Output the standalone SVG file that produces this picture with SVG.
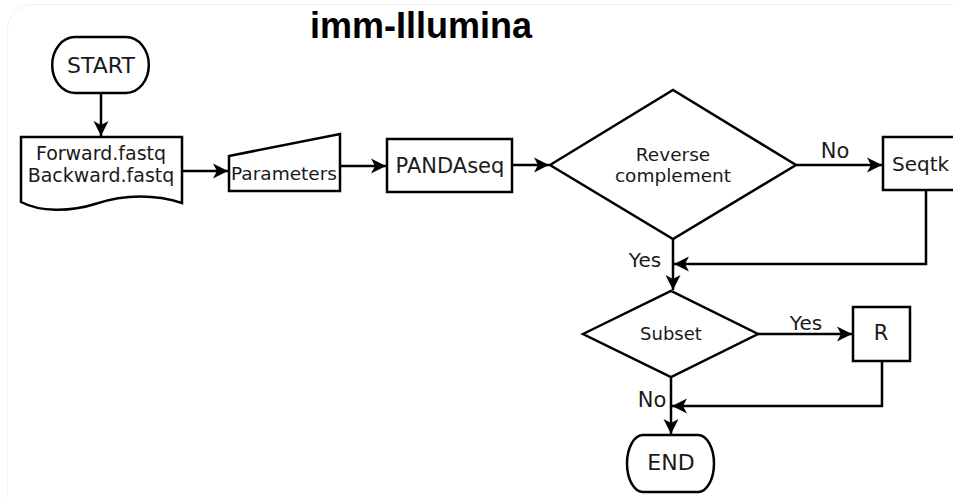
<svg xmlns="http://www.w3.org/2000/svg" width="953" height="497" viewBox="0 0 953 497">
<style>
.s{fill:#fff;stroke:#000;stroke-width:2.5;stroke-linejoin:miter}
.c{fill:none;stroke:#000;stroke-width:2.5}
.t{font-family:"DejaVu Sans",sans-serif;fill:#1a1a1a;text-anchor:middle}
.title{font-family:"Liberation Sans",Arial,sans-serif;font-weight:bold;font-size:36px;fill:#000}
</style>
<defs>
<marker id="ah" viewBox="-15 -8 17 16" markerWidth="17" markerHeight="16" refX="0" refY="0" orient="auto" markerUnits="userSpaceOnUse">
<path d="M0,0 L-15,-7.5 L-11,0 L-15,7.5 Z" fill="#000"/>
</marker>
</defs>
<rect x="7.5" y="4.5" width="1000" height="520" rx="25" fill="none" stroke="#f2f2f2" stroke-width="1"/>
<text class="title" x="310" y="38">imm-Illumina</text>

<g id="connectors">
<path class="c" d="M101,93 V136" marker-end="url(#ah)"/>
<path class="c" d="M183,171 H228" marker-end="url(#ah)"/>
<path class="c" d="M340,166 H386" marker-end="url(#ah)"/>
<path class="c" d="M512,165 H549" marker-end="url(#ah)"/>
<path class="c" d="M796,165 H882" marker-end="url(#ah)"/>
<path class="c" d="M926,190 V264 H674" marker-end="url(#ah)"/>
<path class="c" d="M673,239 V290" marker-end="url(#ah)"/>
<path class="c" d="M758,334 H852" marker-end="url(#ah)"/>
<path class="c" d="M882,361 V406 H672" marker-end="url(#ah)"/>
<path class="c" d="M671,377 V434" marker-end="url(#ah)"/>
<text class="t" x="835" y="158" font-size="21">No</text>
<text class="t" x="645" y="267" font-size="20">Yes</text>
<text class="t" x="806" y="330" font-size="20">Yes</text>
<text class="t" x="652" y="407" font-size="21">No</text>
</g>

<g id="start">
<path class="s" d="M75,37 H126 A22,27 0 0 1 126,93 H75 A22,27 0 0 1 75,37 Z"/>
<text class="t" x="101" y="73" font-size="22">START</text>
</g>

<g id="input">
<path class="s" d="M21,137 H182 V203 C150,193 120,196 95,204 C70,212 40,212 21,202 Z"/>
<text class="t" x="101" y="160" font-size="19">Forward.fastq</text>
<text class="t" x="101" y="182" font-size="19">Backward.fastq</text>
</g>

<g id="parameters">
<path class="s" d="M229,156 L340,134 V191 H229 Z"/>
<text class="t" x="284" y="180" font-size="18.5">Parameters</text>
</g>

<g id="pandaseq">
<rect class="s" x="387" y="139" width="125" height="53"/>
<text class="t" x="450" y="173" font-size="21">PANDAseq</text>
</g>

<g id="reverse">
<path class="s" d="M550,165 L673,90 L796,165 L673,239 Z"/>
<text class="t" x="673" y="161" font-size="18.5">Reverse</text>
<text class="t" x="673" y="182" font-size="18.5">complement</text>
</g>

<g id="seqtk">
<rect class="s" x="883" y="137" width="90" height="53"/>
<text class="t" x="892" y="171" font-size="20" text-anchor="start" style="text-anchor:start">Seqtk</text>
</g>

<g id="subset">
<path class="s" d="M583,334 L671,291 L758,334 L671,377 Z"/>
<text class="t" x="671" y="340" font-size="18">Subset</text>
</g>

<g id="r">
<rect class="s" x="853" y="307" width="57" height="54"/>
<text class="t" x="881" y="340" font-size="21">R</text>
</g>

<g id="end">
<path class="s" d="M643,435 H698 A16,28.5 0 0 1 698,492 H643 A16,28.5 0 0 1 643,435 Z"/>
<text class="t" x="671" y="470" font-size="22">END</text>
</g>
</svg>
